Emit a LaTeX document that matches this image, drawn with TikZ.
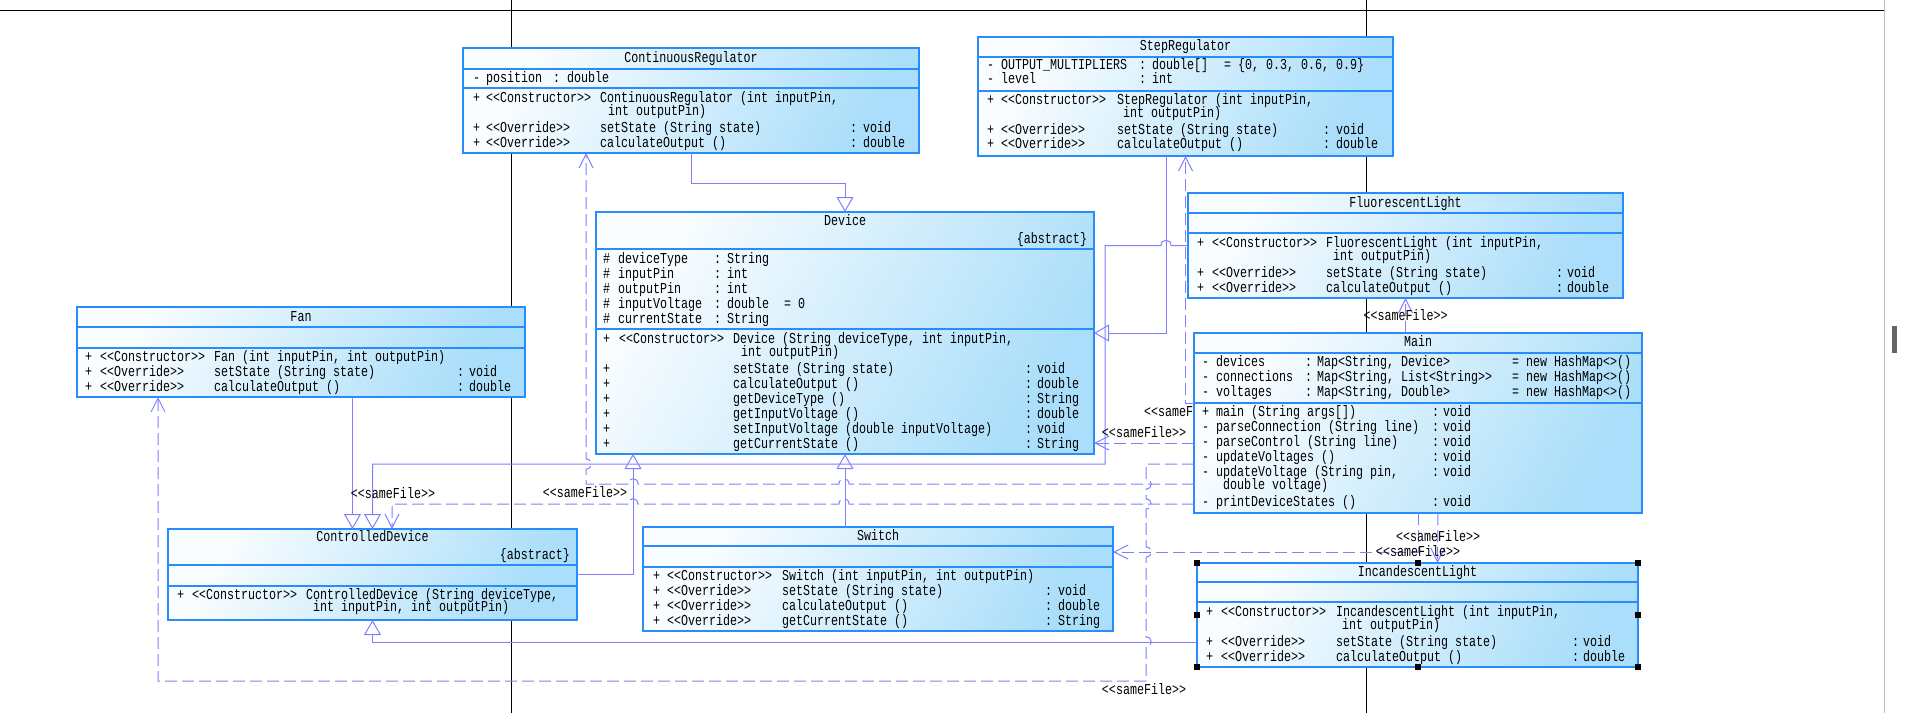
\documentclass[tikz,border=0pt]{standalone}
\usepackage{fontspec}
\usepackage{graphicx}
\setmonofont{Liberation Mono}
\usetikzlibrary{arrows.meta,fit}
\definecolor{boxA}{RGB}{250,253,255}
\definecolor{boxB}{RGB}{170,222,250}
\definecolor{boxL}{RGB}{40,140,250}
\definecolor{conn}{RGB}{128,128,255}
\pgfdeclarelayer{bg}
\pgfsetlayers{bg,main}
\newcounter{tn}
\tikzset{
 txt/.style={anchor=base west, inner sep=0pt, outer sep=0pt, font=\ttfamily\fontsize{11.67}{14}\selectfont},
 ttl/.style={txt, anchor=base},
 rtx/.style={txt, anchor=base east},
 box/.style={draw=boxL, line width=1.2pt, inner sep=0pt, outer sep=0pt, top color=boxA, bottom color=boxB, shading angle=60},
 divl/.style={draw=boxL, line width=1.2pt},
 gen/.style={draw=conn, line width=1pt, -{Triangle[open, length=15pt, width=17pt]}},
 dep/.style={draw=conn, line width=1pt, dash pattern=on 12pt off 5pt, -{Straight Barb[length=14pt, width=14pt]}},
 bgline/.style={draw=black, line width=1pt},
 handle/.style={fill=black, minimum size=6pt, inner sep=0pt, outer sep=0pt},
}
\newcommand\T[3]{\stepcounter{tn}\node[txt] (t\arabic{tn}) at (#1,#2+4.5) {\scalebox{1}[1.3]{#3}};}
\newcommand\C[3]{\stepcounter{tn}\node[ttl] (t\arabic{tn}) at (#1,#2+4.5) {\scalebox{1}[1.3]{#3}};}
\newcommand\R[3]{\stepcounter{tn}\node[rtx] (t\arabic{tn}) at (#1,#2+4.5) {\scalebox{1}[1.3]{#3}};}
\newcommand\umlbox[7]{\node[box, fit={(#2,#3) (#4,#5)}] (#1) {};
 \draw[divl] (#2,#6) -- (#4,#6);
 \draw[divl] (#2,#7) -- (#4,#7);}
\begin{document}
\begin{tikzpicture}[x=1pt,y=-1pt]
\useasboundingbox (0,0) rectangle (1908,713);
\begin{pgfonlayer}{bg}
\fill[white] (0,0) rectangle (1908,713);
\draw[bgline] (0,10) -- (1884,10);
\draw[bgline] (511.5,0) -- (511.5,713);
\draw[bgline] (1366.5,0) -- (1366.5,713);
\draw[draw=black!25, line width=1pt] (1884.5,0) -- (1884.5,713);
\fill[black!60] (1892,326) rectangle (1897,353);
\end{pgfonlayer}

% ---------- ContinuousRegulator
\umlbox{CR}{463}{48}{919}{153}{69}{88}
\C{691}{58}{ContinuousRegulator}
\T{473}{78}{-}\T{486}{78}{position}\T{553}{78}{:}\T{567}{78}{double}
\T{473}{98}{+}\T{486}{98}{<<Constructor>>}\T{600}{98}{ContinuousRegulator (int inputPin,}
\T{608}{111}{int outputPin)}
\T{473}{128}{+}\T{486}{128}{<<Override>>}\T{600}{128}{setState (String state)}\T{850}{128}{:}\T{863}{128}{void}
\T{473}{143}{+}\T{486}{143}{<<Override>>}\T{600}{143}{calculateOutput ()}\T{850}{143}{:}\T{863}{143}{double}

% ---------- StepRegulator
\umlbox{SR}{978}{37}{1393}{156}{57}{91}
\C{1185.5}{46}{StepRegulator}
\T{987}{65}{-}\T{1001}{65}{OUTPUT\_MULTIPLIERS}\T{1139}{65}{:}\T{1152}{65}{double[]}\T{1224}{65}{= \{0, 0.3, 0.6, 0.9\}}
\T{987}{79}{-}\T{1001}{79}{level}\T{1139}{79}{:}\T{1152}{79}{int}
\T{987}{100}{+}\T{1001}{100}{<<Constructor>>}\T{1117}{100}{StepRegulator (int inputPin,}
\T{1123}{113}{int outputPin)}
\T{987}{130}{+}\T{1001}{130}{<<Override>>}\T{1117}{130}{setState (String state)}\T{1323}{130}{:}\T{1336}{130}{void}
\T{987}{144}{+}\T{1001}{144}{<<Override>>}\T{1117}{144}{calculateOutput ()}\T{1323}{144}{:}\T{1336}{144}{double}

% ---------- Device
\umlbox{Device}{596}{212}{1094}{454}{249}{329}
\C{845}{221}{Device}
\R{1087}{239}{\{abstract\}}
\T{603}{259}{\#}\T{618}{259}{deviceType}\T{714}{259}{:}\T{727}{259}{String}
\T{603}{274}{\#}\T{618}{274}{inputPin}\T{714}{274}{:}\T{727}{274}{int}
\T{603}{289}{\#}\T{618}{289}{outputPin}\T{714}{289}{:}\T{727}{289}{int}
\T{603}{304}{\#}\T{618}{304}{inputVoltage}\T{714}{304}{:}\T{727}{304}{double}\T{784}{304}{= 0}
\T{603}{319}{\#}\T{618}{319}{currentState}\T{714}{319}{:}\T{727}{319}{String}
\T{603}{339}{+}\T{619}{339}{<<Constructor>>}\T{733}{339}{Device (String deviceType, int inputPin,}
\T{741}{352}{int outputPin)}
\T{603}{369}{+}\T{733}{369}{setState (String state)}\T{1025}{369}{:}\T{1037}{369}{void}
\T{603}{384}{+}\T{733}{384}{calculateOutput ()}\T{1025}{384}{:}\T{1037}{384}{double}
\T{603}{399}{+}\T{733}{399}{getDeviceType ()}\T{1025}{399}{:}\T{1037}{399}{String}
\T{603}{414}{+}\T{733}{414}{getInputVoltage ()}\T{1025}{414}{:}\T{1037}{414}{double}
\T{603}{429}{+}\T{733}{429}{setInputVoltage (double inputVoltage)}\T{1025}{429}{:}\T{1037}{429}{void}
\T{603}{444}{+}\T{733}{444}{getCurrentState ()}\T{1025}{444}{:}\T{1037}{444}{String}

% ---------- Fan
\umlbox{Fan}{77}{307}{525}{397}{327}{348}
\C{301}{317}{Fan}
\T{85}{357}{+}\T{100}{357}{<<Constructor>>}\T{214}{357}{Fan (int inputPin, int outputPin)}
\T{85}{372}{+}\T{100}{372}{<<Override>>}\T{214}{372}{setState (String state)}\T{457}{372}{:}\T{469}{372}{void}
\T{85}{387}{+}\T{100}{387}{<<Override>>}\T{214}{387}{calculateOutput ()}\T{457}{387}{:}\T{469}{387}{double}

% ---------- FluorescentLight
\umlbox{FL}{1188}{193}{1623}{298}{213}{233}
\C{1405.5}{203}{FluorescentLight}
\T{1197}{243}{+}\T{1212}{243}{<<Constructor>>}\T{1326}{243}{FluorescentLight (int inputPin,}
\T{1333}{256}{int outputPin)}
\T{1197}{273}{+}\T{1212}{273}{<<Override>>}\T{1326}{273}{setState (String state)}\T{1556}{273}{:}\T{1567}{273}{void}
\T{1197}{288}{+}\T{1212}{288}{<<Override>>}\T{1326}{288}{calculateOutput ()}\T{1556}{288}{:}\T{1567}{288}{double}

% ---------- label partly hidden behind Main (visible part only)
\T{1144}{412}{<<sameF}

% ---------- Main
\umlbox{Main}{1194}{333}{1642}{513}{353}{403}
\C{1418}{342}{Main}
\T{1202}{362}{-}\T{1216}{362}{devices}\T{1305}{362}{:}\T{1317}{362}{Map<String, Device>}\T{1512}{362}{= new HashMap<>()}
\T{1202}{377}{-}\T{1216}{377}{connections}\T{1305}{377}{:}\T{1317}{377}{Map<String, List<String>>}\T{1512}{377}{= new HashMap<>()}
\T{1202}{392}{-}\T{1216}{392}{voltages}\T{1305}{392}{:}\T{1317}{392}{Map<String, Double>}\T{1512}{392}{= new HashMap<>()}
\T{1202}{412}{+}\T{1216}{412}{main (String args[])}\T{1432}{412}{:}\T{1443}{412}{void}
\T{1202}{427}{-}\T{1216}{427}{parseConnection (String line)}\T{1432}{427}{:}\T{1443}{427}{void}
\T{1202}{442}{-}\T{1216}{442}{parseControl (String line)}\T{1432}{442}{:}\T{1443}{442}{void}
\T{1202}{457}{-}\T{1216}{457}{updateVoltages ()}\T{1432}{457}{:}\T{1443}{457}{void}
\T{1202}{472}{-}\T{1216}{472}{updateVoltage (String pin,}\T{1432}{472}{:}\T{1443}{472}{void}
\T{1223}{485}{double voltage)}
\T{1202}{502}{-}\T{1216}{502}{printDeviceStates ()}\T{1432}{502}{:}\T{1443}{502}{void}

% ---------- ControlledDevice
\umlbox{CD}{168}{529}{577}{620}{565}{586}
\C{372.5}{537}{ControlledDevice}
\R{570}{555}{\{abstract\}}
\T{177}{595}{+}\T{192}{595}{<<Constructor>>}\T{306}{595}{ControlledDevice (String deviceType,}
\T{313}{607}{int inputPin, int outputPin)}

% ---------- Switch
\umlbox{Switch}{643}{527}{1113}{631}{546}{567}
\C{878}{536}{Switch}
\T{653}{576}{+}\T{667}{576}{<<Constructor>>}\T{782}{576}{Switch (int inputPin, int outputPin)}
\T{653}{591}{+}\T{667}{591}{<<Override>>}\T{782}{591}{setState (String state)}\T{1045}{591}{:}\T{1058}{591}{void}
\T{653}{606}{+}\T{667}{606}{<<Override>>}\T{782}{606}{calculateOutput ()}\T{1045}{606}{:}\T{1058}{606}{double}
\T{653}{621}{+}\T{667}{621}{<<Override>>}\T{782}{621}{getCurrentState ()}\T{1045}{621}{:}\T{1058}{621}{String}

% ---------- IncandescentLight
\umlbox{IL}{1197}{563}{1638}{667}{582}{602}
\C{1417.5}{572}{IncandescentLight}
\T{1206}{612}{+}\T{1221}{612}{<<Constructor>>}\T{1336}{612}{IncandescentLight (int inputPin,}
\T{1342}{625}{int outputPin)}
\T{1206}{642}{+}\T{1221}{642}{<<Override>>}\T{1336}{642}{setState (String state)}\T{1572}{642}{:}\T{1583}{642}{void}
\T{1206}{657}{+}\T{1221}{657}{<<Override>>}\T{1336}{657}{calculateOutput ()}\T{1572}{657}{:}\T{1583}{657}{double}

% ---------- generalizations
\draw[gen] (CR.south) -- ++(0,30) -| (Device.north);
\draw[gen] ([xshift=-19.5pt]SR.south) |- (Device.east);
\draw[gen] (FL.west) -- ([xshift=-17pt]FL.west) .. controls +(0,-7) and +(0,-7) .. ([xshift=-27pt]FL.west) -| ([xshift=11pt,yshift=-131pt]Device.east) -| (CD.north);
\draw[gen] ([xshift=-20pt]CD.north |- Fan.south) -- ([xshift=-20pt]CD.north);
\draw[gen] (CD.east) -| ([xshift=-212pt]Device.south);
\draw[gen] (Switch.north -| Device.south) -- (Device.south);
\draw[gen] ([yshift=-27pt]IL.west) -| (CD.south);

% ---------- dependencies <<sameFile>>
\draw[dep] (Main.north -| FL.south) -- (FL.south);
\draw[dep] ([xshift=20pt]Main.south) -- ([xshift=20pt]IL.north);
\draw[dep] (Main.south) |- ([yshift=27pt]Switch.east);
\draw[dep] ([yshift=-20pt]Main.west) -- ([yshift=-20pt]Main.west -| Device.east);
\draw[dep] ([yshift=20pt]Main.west) -| (SR.south);
\draw[dep] ([yshift=-41pt]Main.west) -- ++(-48,0) -- ++(0,15)
  .. controls +(7,0) and +(7,0) .. ++(0,10) -- ++(0,10)
  .. controls +(7,0) and +(7,0) .. ++(0,10) -- ++(0,38)
  .. controls +(7,0) and +(7,0) .. ++(0,10) -- ++(0,80)
  .. controls +(7,0) and +(7,0) .. ++(0,10) -- ++(0,34)
  -| ([xshift=-143pt]Fan.south);
\draw[dep] ([yshift=-61pt]Main.west) -- ++(-345,0)
  .. controls +(0,-7) and +(0,-7) .. ++(-10,0) -- ++(-201,0)
  .. controls +(0,-7) and +(0,-7) .. ++(-10,0) -- ++(-42,0) -- ++(0,-15)
  .. controls +(7,0) and +(7,0) .. ++(0,-10) -- ([xshift=-105pt]CR.south);
\draw[dep] ([yshift=-81pt]Main.west) -- ++(-345,0)
  .. controls +(0,-7) and +(0,-7) .. ++(-10,0) -- ++(-201,0)
  .. controls +(0,-7) and +(0,-7) .. ++(-10,0) -| ([xshift=19.5pt]CD.north);

% ---------- labels
\C{393}{494}{<<sameFile>>}
\C{585}{493}{<<sameFile>>}
\C{1144}{433}{<<sameFile>>}
\C{1405.5}{316}{<<sameFile>>}
\C{1438}{537}{<<sameFile>>}
\C{1418}{552}{<<sameFile>>}
\C{1144}{690}{<<sameFile>>}

% ---------- selection handles
\foreach \hx/\hy [count=\i] in {1197/563,1418/563,1638/563,1197/615,1638/615,1197/667,1418/667,1638/667}
  \node[handle] (h\i) at (\hx,\hy) {};
\end{tikzpicture}
\end{document}
